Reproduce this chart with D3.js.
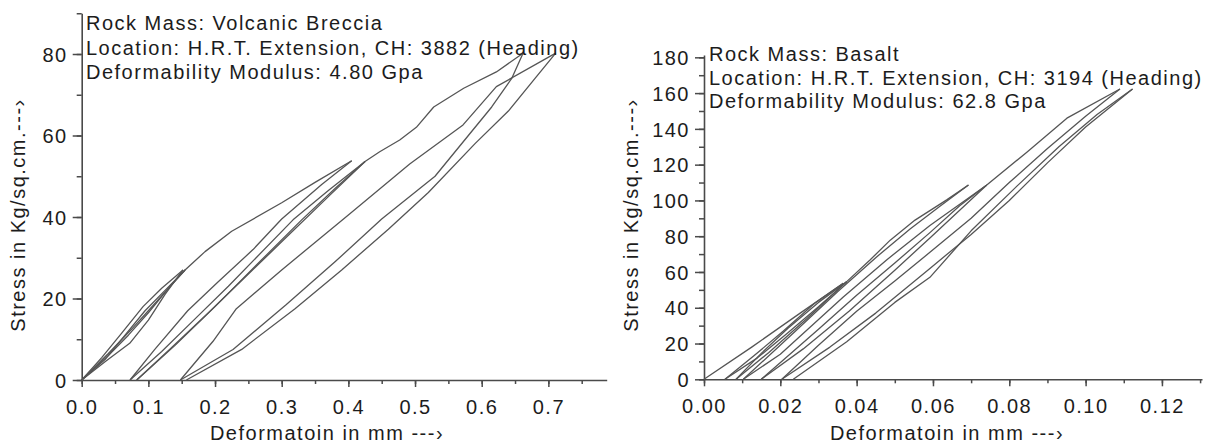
<!DOCTYPE html>
<html><head><meta charset="utf-8">
<script src="https://cdn.jsdelivr.net/npm/d3@7"></script>
<style>
body{margin:0;background:#fff}
svg text{font-family:"Liberation Sans",Arial,sans-serif;fill:#1c1c1c}
</style></head><body>
<svg id="c" width="1220" height="445"></svg>
<script>
// ---------- Left panel: Volcanic Breccia ----------
const leftAnnotation = ["Rock Mass: Volcanic Breccia","Location: H.R.T. Extension, CH: 3882 (Heading)","Deformability Modulus: 4.80 Gpa"];
const leftXTicks = [0,0.1,0.2,0.3,0.4,0.5,0.6,0.7];
const leftYTicks = [0,20,40,60,80];
const leftLoad1   = [[0,0],[0.035,4.5],[0.072,9],[0.1,14.7],[0.125,21],[0.152,27]];
const leftUnload1 = [[0.152,27],[0.12,22.5],[0.092,18],[0.06,11.5],[0.03,5.5],[0,0]];
const leftLoad2   = [[0,0],[0.04,6],[0.07,11],[0.1,16.5],[0.13,22.5],[0.155,27]];
const leftUnload2 = [[0.155,27],[0.125,22],[0.095,17],[0.065,11],[0.035,5],[0,0]];
const leftLoad3   = [[0,0],[0.04,6.5],[0.075,12.5],[0.1,17],[0.13,22.5],[0.155,27],[0.185,31.5],[0.225,36.5],[0.3,43.5],[0.35,48.5],[0.405,53.8]];
const leftUnload3 = [[0.405,53.8],[0.36,48],[0.3,39.5],[0.257,32],[0.204,24],[0.159,17],[0.109,7.4],[0.0725,0]];
const leftLoad4   = [[0.0725,0],[0.12,7],[0.17,15],[0.22,23],[0.317,39.3],[0.37,46.5],[0.425,53.6]];
const leftUnload4 = [[0.425,53.6],[0.38,47],[0.33,39.3],[0.27,29.5],[0.2,18],[0.14,8.5],[0.0825,0]];
const leftLoad5   = [[0.0825,0],[0.135,8],[0.19,16.5],[0.25,26],[0.31,35.5],[0.37,45],[0.425,53.6],[0.447,56],[0.477,58.9],[0.502,62],[0.528,67],[0.573,71.6],[0.622,75.6],[0.662,80.2]];
const leftUnload5 = [[0.662,80.2],[0.645,74],[0.615,67],[0.58,60],[0.53,50],[0.45,39.5],[0.38,29],[0.307,18.5],[0.227,7.5],[0.148,0]];
const leftLoad6   = [[0.148,0],[0.197,9.5],[0.232,17.5],[0.3,27],[0.4,40.5],[0.492,53],[0.572,62.6],[0.622,72],[0.711,80.2]];
const leftUnload6 = [[0.711,80.2],[0.68,74],[0.64,66],[0.59,58],[0.52,46],[0.46,37],[0.39,27],[0.32,17.5],[0.24,7.5],[0.157,0]];

// ---------- Right panel: Basalt ----------
const rightAnnotation = ["Rock Mass: Basalt","Location: H.R.T. Extension, CH: 3194 (Heading)","Deformability Modulus: 62.8 Gpa"];
const rightXTicks = [0,0.02,0.04,0.06,0.08,0.10,0.12];
const rightYTicks = [0,20,40,60,80,100,120,140,160,180];
const rightLoad1   = [[0,0],[0.0125,18],[0.0252,37],[0.0365,53.7]];
const rightUnload1 = [[0.0365,53.7],[0.029,42.5],[0.0208,27],[0.013,13],[0.0055,0]];
const rightLoad2   = [[0.0055,0],[0.014,12],[0.022,26],[0.03,40.5],[0.0374,54.6]];
const rightUnload2 = [[0.0374,54.6],[0.03,43],[0.022,28.5],[0.015,14.5],[0.0084,0]];
const rightLoad3   = [[0.0084,0],[0.017,15],[0.027,34],[0.0374,54.6],[0.0435,66.7],[0.0488,77.8],[0.0553,89],[0.0636,100.3],[0.0693,108.6]];
const rightUnload3 = [[0.0693,108.6],[0.062,97],[0.054,84],[0.045,68],[0.035,49],[0.024,27],[0.0103,0]];
const rightLoad4   = [[0.0103,0],[0.02,14],[0.0365,46],[0.048,67],[0.0592,86],[0.0741,108.6]];
const rightUnload4 = [[0.0741,108.6],[0.067,97],[0.0592,82],[0.05,65],[0.04,47],[0.03,28],[0.015,0]];
const rightLoad5   = [[0.015,0],[0.026,17],[0.038,38],[0.05,61],[0.0592,79],[0.0741,108.6],[0.0846,127],[0.0951,146],[0.109,162.3]];
const rightUnload5 = [[0.109,162.3],[0.1,147],[0.09,129],[0.08,110],[0.07,90],[0.0592,71],[0.05,55],[0.04,38],[0.03,19],[0.0204,0]];
const rightLoad6   = [[0.0204,0],[0.033,18],[0.045,37],[0.0592,62],[0.07,81],[0.08,100],[0.09,121],[0.1,141],[0.1123,162.3]];
const rightUnload6 = [[0.1123,162.3],[0.103,148],[0.093,130],[0.082,108],[0.07,83],[0.0592,57],[0.05,43],[0.0374,21],[0.0234,0]];

const xTitle = "Deformatoin in mm ---\u203A";
const yTitle = "Stress in Kg/sq.cm.---\u203A";

const svg = d3.select("#c");
const FS = 20, LS = "1.5px";
const axisColor = "#4a4a4a", lineColor = "#555";

function panel(o){
  const x = d3.scaleLinear().domain(o.xDomain).range(o.xRange);
  const y = d3.scaleLinear().domain(o.yDomain).range(o.yRange);
  const g = svg.append("g");
  const xMinor = d3.range(o.xDomain[0], o.xDomain[1]+1e-9, o.xMinorStep);
  const yMinor = d3.range(o.yDomain[0], o.yDomain[1]+1e-9, o.yMinorStep);
  g.append("g").attr("transform",`translate(0,${o.yRange[0]})`)
    .call(d3.axisBottom(x).tickValues(xMinor).tickSize(4).tickSizeOuter(0).tickFormat(""))
    .call(s=>s.select(".domain").remove());
  g.append("g").attr("transform",`translate(${o.xRange[0]},0)`)
    .call(d3.axisLeft(y).tickValues(yMinor).tickSize(5).tickSizeOuter(0).tickFormat(""))
    .call(s=>s.select(".domain").remove());
  const xa = g.append("g").attr("transform",`translate(0,${o.yRange[0]})`)
    .call(d3.axisBottom(x).tickValues(o.xTicks).tickSize(7).tickSizeOuter(0).tickPadding(13).tickFormat(d3.format(o.xFmt)));
  const ya = g.append("g").attr("transform",`translate(${o.xRange[0]},0)`)
    .call(d3.axisLeft(y).tickValues(o.yTicks).tickSize(9).tickSizeOuter(0).tickPadding(5).tickFormat(d3.format("d")));
  g.selectAll(".tick line").attr("stroke",axisColor).attr("stroke-width",1.5);
  g.selectAll(".domain").attr("stroke",axisColor).attr("stroke-width",1.6);
  [xa,ya].forEach(a=>a.selectAll("text").attr("font-size",FS).attr("letter-spacing",LS)
      .style("font-family","'Liberation Sans',Arial,sans-serif").attr("fill","#1c1c1c"));
  ya.selectAll("text").attr("dy","0.36em");
  const line = d3.line().x(d=>x(d[0])).y(d=>y(d[1]));
  g.append("g").selectAll("path").data(o.curves).join("path")
    .attr("d",line).attr("fill","none").attr("stroke",lineColor)
    .attr("stroke-width",1.3).attr("stroke-linejoin","round");
  g.append("g").selectAll("text").data(o.annotation).join("text")
    .attr("x",o.annX).attr("y",(d,i)=>o.annY+i*o.annDy)
    .attr("font-size",FS).attr("letter-spacing",LS).text(d=>d);
  g.append("text").attr("x",o.xTitleX).attr("y",440).attr("text-anchor","middle")
    .attr("font-size",FS).attr("letter-spacing",LS).text(xTitle);
  g.append("text").attr("transform",`translate(${o.yTitleX},215) rotate(-90)`).attr("text-anchor","middle")
    .attr("font-size",FS).attr("letter-spacing",LS).text(yTitle);
}

panel({
  xDomain:[0,0.7875], xRange:[81.7,606.7], yDomain:[0,90], yRange:[380,13.25],
  xTicks:leftXTicks, yTicks:leftYTicks, xMinorStep:0.05, yMinorStep:10, xFmt:".1f",
  curves:[leftLoad1,leftUnload1,leftLoad2,leftUnload2,leftLoad3,leftUnload3,leftLoad4,leftUnload4,leftLoad5,leftUnload5,leftLoad6,leftUnload6],
  annotation:leftAnnotation, annX:86, annY:30, annDy:24.5,
  xTitleX:327, yTitleX:25
});
panel({
  xDomain:[0,0.1305], xRange:[704,1202], yDomain:[0,181.3], yRange:[379.3,55],
  xTicks:rightXTicks, yTicks:rightYTicks, xMinorStep:0.01, yMinorStep:10, xFmt:".2f",
  curves:[rightLoad1,rightUnload1,rightLoad2,rightUnload2,rightLoad3,rightUnload3,rightLoad4,rightUnload4,rightLoad5,rightUnload5,rightLoad6,rightUnload6],
  annotation:rightAnnotation, annX:709, annY:61, annDy:23.5,
  xTitleX:947, yTitleX:638
});
</script>
</body></html>
